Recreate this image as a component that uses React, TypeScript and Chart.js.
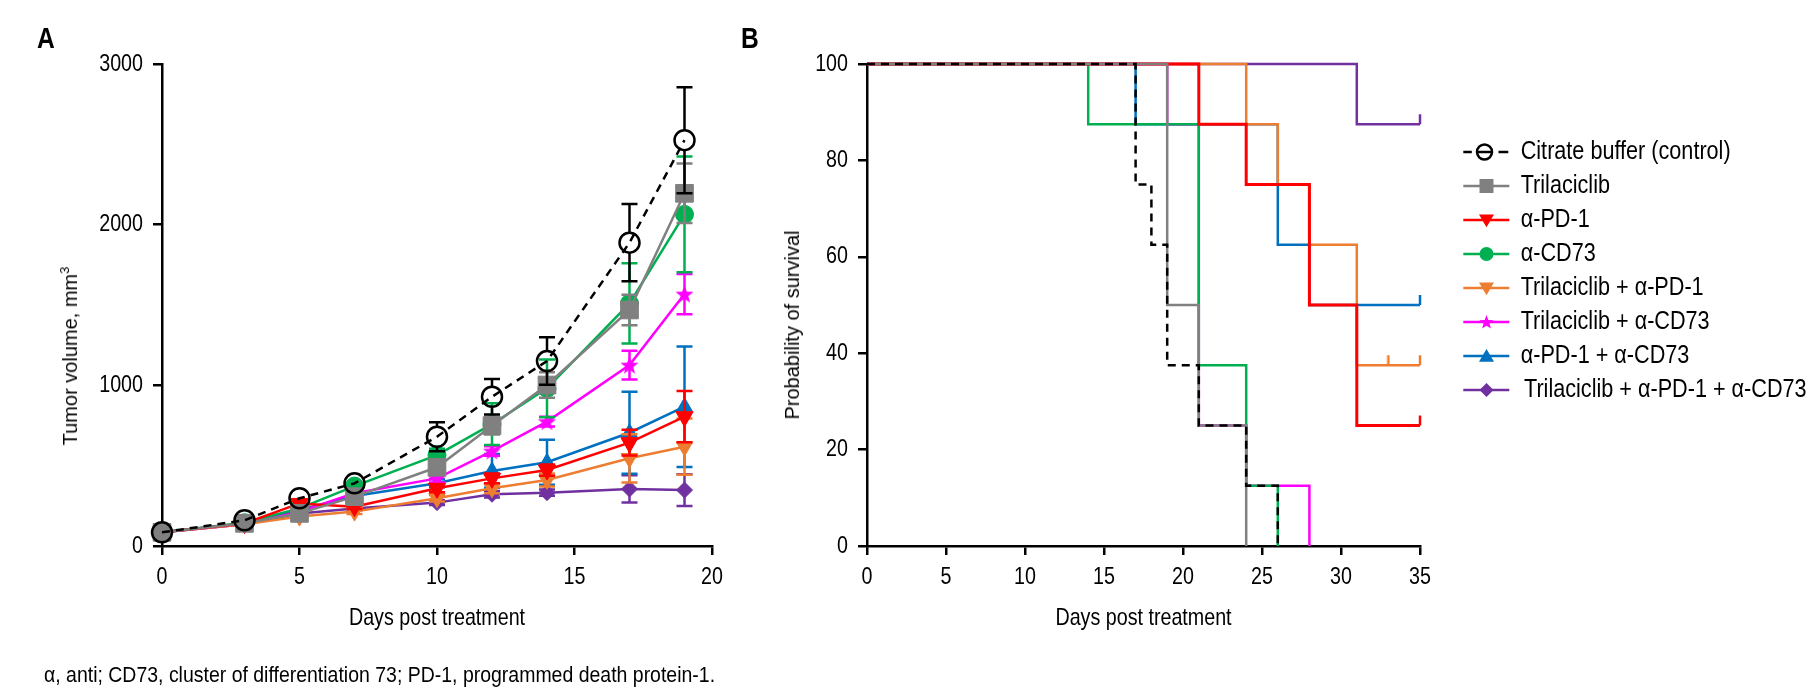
import React, { useEffect, useRef } from 'react';
import { Chart, registerables } from 'chart.js';

Chart.register(...registerables);

const SANS = "'Liberation Sans', Arial, sans-serif";
const CONDENSE = 0.82;

// ---------- Groups ----------
const groupNames = [
  'Citrate buffer (control)',
  'Trilaciclib',
  'α-PD-1',
  'α-CD73',
  'Trilaciclib + α-PD-1',
  'Trilaciclib + α-CD73',
  'α-PD-1 + α-CD73',
  'Trilaciclib + α-PD-1 + α-CD73',
];
const groupColors = ['#000000', '#808080', '#FF0000', '#00B050', '#ED7D31', '#FF00FF', '#0070C0', '#7030A0'];

// ---------- Panel A: tumor volume (mean ± SEM) ----------
const days = [0, 3, 5, 7, 10, 12, 14, 17, 19];
const controlMean = [85, 160, 297, 390, 680, 929, 1151, 1888, 2526];
const controlSem = [8, 15, 20, 25, 90, 110, 148, 240, 330];
const trilaciclibMean = [85, 141, 203, 307, 490, 749, 1002, 1469, 2195];
const trilaciclibSem = [6, 10, 15, 20, 45, 55, 80, 95, 185];
const pd1Mean = [85, 140, 265, 245, 359, 421, 473, 643, 805];
const pd1Sem = [6, 10, 15, 15, 25, 30, 35, 80, 160];
const cd73Mean = [85, 145, 234, 373, 566, 758, 981, 1510, 2064];
const cd73Sem = [6, 10, 15, 20, 40, 130, 180, 250, 360];
const triPd1Mean = [85, 135, 183, 214, 297, 359, 411, 546, 618];
const triPd1Sem = [6, 10, 12, 15, 20, 30, 40, 150, 175];
const triCd73Mean = [85, 135, 214, 328, 421, 591, 774, 1126, 1568];
const triCd73Sem = [6, 10, 12, 15, 25, 30, 30, 90, 125];
const pd1Cd73Mean = [85, 140, 224, 311, 390, 467, 521, 705, 867];
const pd1Cd73Sem = [6, 10, 12, 15, 25, 105, 140, 255, 375];
const tripleMean = [85, 135, 203, 234, 270, 322, 332, 355, 348];
const tripleSem = [6, 8, 10, 12, 15, 20, 20, 85, 99];

const volumeMeans = [controlMean, trilaciclibMean, pd1Mean, cd73Mean, triPd1Mean, triCd73Mean, pd1Cd73Mean, tripleMean];
const volumeSems = [controlSem, trilaciclibSem, pd1Sem, cd73Sem, triPd1Sem, triCd73Sem, pd1Cd73Sem, tripleSem];

const volumeTicksX = [0, 5, 10, 15, 20];
const volumeTicksY = [0, 1000, 2000, 3000];

// ---------- Panel B: Kaplan-Meier survival ----------
const survDaysControl = [0, 17, 18, 19, 21, 24, 26];
const survControl = [100, 75, 62.5, 37.5, 25, 12.5, 0];
const survDaysTrilaciclib = [0, 19, 21, 24];
const survTrilaciclib = [100, 50, 25, 0];
const survDaysPd1 = [0, 21, 24, 28, 31, 35];
const survPd1 = [100, 87.5, 75, 50, 25, 25];
const survDaysCd73 = [0, 14, 21, 24, 26];
const survCd73 = [100, 87.5, 37.5, 12.5, 0];
const survDaysTriPd1 = [0, 24, 26, 28, 31, 35];
const survTriPd1 = [100, 87.5, 75, 62.5, 37.5, 37.5];
const survDaysTriCd73 = [0, 19, 21, 24, 28];
const survTriCd73 = [100, 87.5, 25, 12.5, 0];
const survDaysPd1Cd73 = [0, 17, 26, 28, 35];
const survPd1Cd73 = [100, 87.5, 62.5, 50, 50];
const survDaysTriple = [0, 31, 35];
const survTriple = [100, 87.5, 87.5];

const survDays = [survDaysControl, survDaysTrilaciclib, survDaysPd1, survDaysCd73, survDaysTriPd1, survDaysTriCd73, survDaysPd1Cd73, survDaysTriple];
const survValues = [survControl, survTrilaciclib, survPd1, survCd73, survTriPd1, survTriCd73, survPd1Cd73, survTriple];

// censored observations (group index, day, survival)
const censorGroup = [2, 4, 4, 6, 7];
const censorDay = [35, 33, 35, 35, 35];
const censorValue = [25, 37.5, 37.5, 50, 87.5];

const survTicksX = [0, 5, 10, 15, 20, 25, 30, 35];
const survTicksY = [0, 20, 40, 60, 80, 100];

// ---------- marker helpers ----------
const markerKinds = ['openCircle', 'square', 'triDown', 'circle', 'triDown', 'star', 'triUp', 'diamond'];

function starPath(ctx: CanvasRenderingContext2D, cx: number, cy: number, ro: number, ri: number) {
  ctx.beginPath();
  for (let k = 0; k < 10; k++) {
    const r = k % 2 === 0 ? ro : ri;
    const a = -Math.PI / 2 + (k * Math.PI) / 5;
    const px = cx + r * Math.cos(a);
    const py = cy + r * Math.sin(a);
    if (k === 0) ctx.moveTo(px, py);
    else ctx.lineTo(px, py);
  }
  ctx.closePath();
}

function makeStarCanvas(color: string, ro: number) {
  const c = document.createElement('canvas');
  const s = Math.ceil(ro * 2 + 4);
  c.width = s;
  c.height = s;
  const ctx = c.getContext('2d')!;
  ctx.fillStyle = color;
  starPath(ctx, s / 2, s / 2 + 0.8, ro, ro * 0.42);
  ctx.fill();
  return c;
}

function makeCensorCanvas(color: string) {
  const c = document.createElement('canvas');
  c.width = 4;
  c.height = 22;
  const ctx = c.getContext('2d')!;
  ctx.strokeStyle = color;
  ctx.lineWidth = 2.5;
  ctx.beginPath();
  ctx.moveTo(2, 1);
  ctx.lineTo(2, 11);
  ctx.stroke();
  return c;
}

function drawMarker(ctx: CanvasRenderingContext2D, kind: string, x: number, y: number, r: number, color: string) {
  ctx.save();
  ctx.fillStyle = color;
  ctx.strokeStyle = color;
  ctx.setLineDash([]);
  ctx.beginPath();
  if (kind === 'openCircle') {
    ctx.lineWidth = 2.5;
    ctx.arc(x, y, r, 0, Math.PI * 2);
    ctx.stroke();
  } else if (kind === 'circle') {
    ctx.arc(x, y, r, 0, Math.PI * 2);
    ctx.fill();
  } else if (kind === 'square') {
    ctx.rect(x - r, y - r, 2 * r, 2 * r);
    ctx.fill();
  } else if (kind === 'triDown') {
    ctx.moveTo(x - r, y - r * 0.75);
    ctx.lineTo(x + r, y - r * 0.75);
    ctx.lineTo(x, y + r * 0.95);
    ctx.closePath();
    ctx.fill();
  } else if (kind === 'triUp') {
    ctx.moveTo(x - r, y + r * 0.75);
    ctx.lineTo(x + r, y + r * 0.75);
    ctx.lineTo(x, y - r * 0.95);
    ctx.closePath();
    ctx.fill();
  } else if (kind === 'diamond') {
    ctx.moveTo(x, y - r);
    ctx.lineTo(x + r, y);
    ctx.lineTo(x, y + r);
    ctx.lineTo(x - r, y);
    ctx.closePath();
    ctx.fill();
  } else if (kind === 'star') {
    starPath(ctx, x, y + 0.5, r, r * 0.42);
    ctx.fill();
  }
  ctx.restore();
}

// ---------- plugins ----------
// Renders all canvas text horizontally condensed (Arial-Narrow-like look)
const condensePlugin = {
  id: 'condenseText',
  beforeInit(chart: any) {
    const ctx = chart.ctx as any;
    if (ctx.__condensed) return;
    ctx.__condensed = true;
    ctx.__condense = CONDENSE;
    const orig = ctx.fillText;
    ctx.fillText = function (text: string, x: number, y: number) {
      this.save();
      this.translate(x, y);
      this.scale(this.__condense, 1);
      orig.call(this, text, 0, 0);
      this.restore();
    };
  },
};

const errorBarPlugin = {
  id: 'errorBars',
  beforeDatasetDraw(chart: any, args: any) {
    const ds = chart.data.datasets[args.index];
    const errs = ds.errorBars;
    if (!errs) return;
    const yScale = chart.scales.y;
    const ctx = chart.ctx;
    const gap = ds.errGap || 0;
    ctx.save();
    ctx.strokeStyle = ds.borderColor;
    ctx.lineWidth = 2.5;
    ctx.setLineDash([]);
    args.meta.data.forEach((pt: any, i: number) => {
      const v = ds.data[i].y;
      const e = errs[i];
      const top = yScale.getPixelForValue(v + e);
      const bot = yScale.getPixelForValue(v - e);
      ctx.beginPath();
      if (top < pt.y - gap - 1) {
        ctx.moveTo(pt.x, pt.y - gap);
        ctx.lineTo(pt.x, top);
        ctx.moveTo(pt.x - 8, top);
        ctx.lineTo(pt.x + 8, top);
      }
      if (bot > pt.y + gap + 1) {
        ctx.moveTo(pt.x, pt.y + gap);
        ctx.lineTo(pt.x, bot);
        ctx.moveTo(pt.x - 8, bot);
        ctx.lineTo(pt.x + 8, bot);
      }
      ctx.stroke();
    });
    ctx.restore();
  },
};

const survivalLegendPlugin = {
  id: 'survivalLegend',
  afterDraw(chart: any) {
    const ctx = chart.ctx as any;
    const x0 = 703.3;
    const x1 = 749.3;
    const mx = 726.5;
    const y0 = 152;
    const dy = 34;
    const legendRadii = [7.5, 7, 7.5, 7, 7.5, 7.5, 7.5, 7];
    ctx.save();
    groupNames.forEach((name, i) => {
      const y = y0 + i * dy;
      const color = groupColors[i];
      ctx.strokeStyle = color;
      ctx.lineWidth = 2.5;
      ctx.setLineDash([]);
      ctx.beginPath();
      if (i === 0) {
        ctx.moveTo(x0, y);
        ctx.lineTo(x0 + 8.5, y);
        ctx.moveTo(717.5, y);
        ctx.lineTo(731.5, y);
        ctx.moveTo(738.5, y);
        ctx.lineTo(x1 - 1, y);
      } else {
        ctx.moveTo(x0, y);
        ctx.lineTo(x1, y);
      }
      ctx.stroke();
      drawMarker(ctx, markerKinds[i], i === 0 ? 724.5 : mx, y, legendRadii[i], color);
      ctx.fillStyle = '#000';
      ctx.font = `25px ${SANS}`;
      ctx.textBaseline = 'middle';
      ctx.textAlign = 'left';
      const prev = ctx.__condense;
      ctx.__condense = 0.865;
      ctx.fillText(name, i === 7 ? 764 : 760.7, y);
      ctx.__condense = prev;
    });
    ctx.restore();
  },
};

// ---------- axis helpers ----------
function axisCommon(min: number, max: number, ticksList: number[], fixed: { width?: number; height?: number }, title?: string) {
  return {
    type: 'linear',
    min,
    max,
    afterBuildTicks: (scale: any) => {
      scale.ticks = ticksList.map((v) => ({ value: v }));
    },
    afterFit: (scale: any) => {
      if (fixed.width !== undefined) scale.width = fixed.width;
      if (fixed.height !== undefined) scale.height = fixed.height;
    },
    border: { display: true, color: '#000', width: 2.5 },
    grid: {
      display: true,
      drawOnChartArea: false,
      drawTicks: true,
      tickLength: 9,
      color: '#000',
      lineWidth: 2.5,
    },
    ticks: {
      color: '#000',
      font: { family: SANS, size: 24 },
      padding: fixed.width !== undefined ? 10 : 8,
      maxRotation: 0,
      autoSkip: false,
      callback: (v: any) => String(v),
    },
    title: title
      ? {
          display: true,
          text: title,
          color: '#000',
          font: { family: SANS, size: 24 },
          padding: { top: 0, bottom: 0 },
        }
      : { display: false },
  };
}

export default function App() {
  const refA = useRef<HTMLCanvasElement>(null);
  const refB = useRef<HTMLCanvasElement>(null);

  useEffect(() => {
    const pointStyles: any[] = [
      'circle',
      'rect',
      'triangle',
      'circle',
      'triangle',
      makeStarCanvas(groupColors[5], 9.5),
      'triangle',
      'rectRot',
    ];
    const rotations = [0, 0, 180, 0, 180, 0, 0, 0];
    const radii = [10, 12.5, 10, 9, 9.5, 9, 9, 8];

    const datasetsA = groupNames.map((name, g) => ({
      label: name,
      data: days.map((d, i) => ({ x: d, y: volumeMeans[g][i] })),
      errorBars: volumeSems[g],
      errGap: g === 0 ? 10 : 0,
      borderColor: groupColors[g],
      backgroundColor: groupColors[g],
      borderWidth: 2.5,
      borderDash: g === 0 ? [8, 6] : [],
      pointStyle: pointStyles[g],
      pointRotation: rotations[g],
      pointRadius: radii[g],
      pointBackgroundColor: g === 0 ? 'rgba(0,0,0,0)' : groupColors[g],
      pointBorderColor: groupColors[g],
      pointBorderWidth: g === 0 ? 2.5 : 1,
      tension: 0,
      clip: false,
      fill: false,
    }));

    const chartA = new Chart(refA.current!, {
      type: 'line',
      data: { datasets: datasetsA as any },
      plugins: [condensePlugin, errorBarPlugin],
      options: {
        responsive: false,
        animation: false,
        devicePixelRatio: 1,
        events: [],
        layout: { padding: { left: 62, right: 48, top: 64, bottom: 56.6 } },
        plugins: { legend: { display: false }, tooltip: { enabled: false } },
        scales: {
          x: axisCommon(0, 20, volumeTicksX, { height: 86.4 }, 'Days post treatment') as any,
          y: axisCommon(0, 3000, volumeTicksY, { width: 100 }) as any,
        },
      },
    });

    const widthsB = [2.5, 2.5, 3, 2.5, 2.5, 2.5, 2.5, 2.5];
    const datasetsB: any[] = groupNames.map((name, g) => ({
      label: name,
      data: survDays[g].map((d, i) => ({ x: d, y: survValues[g][i] })),
      borderColor: groupColors[g],
      backgroundColor: groupColors[g],
      borderWidth: widthsB[g],
      borderDash: g === 0 ? [8, 6] : [],
      stepped: 'before',
      pointRadius: 0,
      tension: 0,
      clip: false,
      fill: false,
    }));
    censorGroup.forEach((g, k) => {
      datasetsB.push({
        label: groupNames[g] + ' censored',
        data: [{ x: censorDay[k], y: censorValue[k] }],
        showLine: false,
        pointStyle: makeCensorCanvas(groupColors[g]),
        pointRadius: 5,
        borderColor: groupColors[g],
        backgroundColor: groupColors[g],
        clip: false,
      });
    });

    const chartB = new Chart(refB.current!, {
      type: 'line',
      data: { datasets: datasetsB },
      plugins: [condensePlugin, survivalLegendPlugin],
      options: {
        responsive: false,
        animation: false,
        devicePixelRatio: 1,
        events: [],
        layout: { padding: { left: 47, right: 394, top: 64, bottom: 56.6 } },
        plugins: { legend: { display: false }, tooltip: { enabled: false } },
        scales: {
          x: axisCommon(0, 35, survTicksX, { height: 86.4 }, 'Days post treatment') as any,
          y: axisCommon(0, 100, survTicksY, { width: 60 }) as any,
        },
      },
    });

    return () => {
      chartA.destroy();
      chartB.destroy();
    };
  }, []);

  const rotTitle = (cx: number, cy: number): React.CSSProperties => ({
    position: 'absolute',
    left: cx,
    top: cy,
    transform: 'translate(-50%, -50%) rotate(-90deg)',
    whiteSpace: 'nowrap',
    fontFamily: SANS,
    fontSize: 20,
    lineHeight: '20px',
    color: '#000',
  });

  const panelLabel = (left: number): React.CSSProperties => ({
    position: 'absolute',
    left,
    top: 23,
    fontFamily: SANS,
    fontWeight: 'bold',
    fontSize: 30,
    lineHeight: '30px',
    transform: `scaleX(${CONDENSE})`,
    transformOrigin: 'left top',
  });

  return (
    <div style={{ position: 'fixed', left: 0, top: 0, width: 1814, height: 689, background: '#fff', overflow: 'hidden' }}>
      <canvas ref={refA} width={760} height={689} style={{ position: 'absolute', left: 0, top: 0 }} />
      <canvas ref={refB} width={1054} height={689} style={{ position: 'absolute', left: 760, top: 0 }} />
      <div style={panelLabel(37)}>A</div>
      <div style={panelLabel(741)}>B</div>
      <div style={rotTitle(70, 356)}>
        Tumor volume, mm<sup style={{ fontSize: 13, lineHeight: 0 }}>3</sup>
      </div>
      <div style={rotTitle(792, 325)}>Probability of survival</div>
      <div
        style={{
          position: 'absolute',
          left: 44,
          top: 664,
          fontFamily: SANS,
          fontSize: 22,
          lineHeight: '22px',
          whiteSpace: 'nowrap',
          transform: 'scaleX(0.885)',
          transformOrigin: 'left top',
        }}
      >
        α, anti; CD73, cluster of differentiation 73; PD-1, programmed death protein-1.
      </div>
    </div>
  );
}
